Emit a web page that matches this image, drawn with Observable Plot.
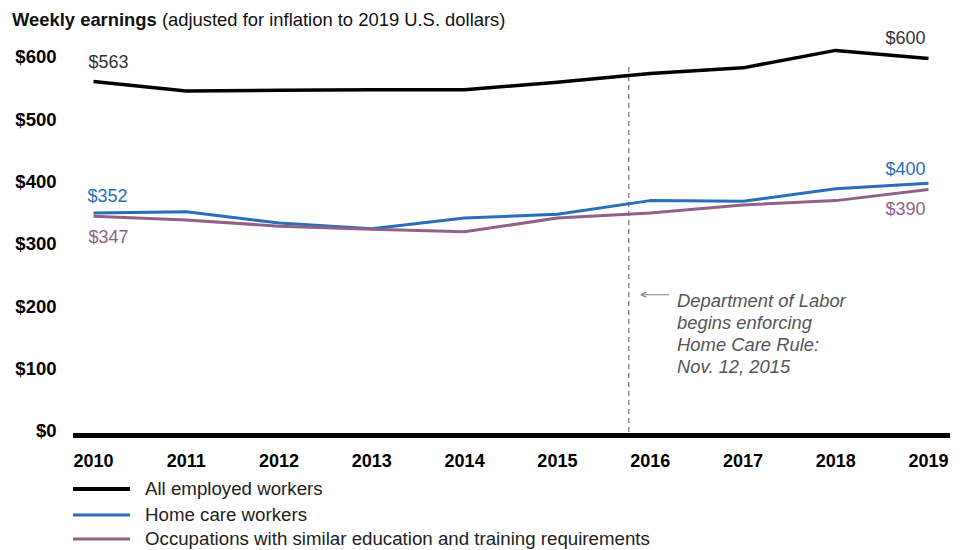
<!DOCTYPE html>
<html>
<head>
<meta charset="utf-8">
<script src="https://cdn.jsdelivr.net/npm/d3@7"></script>
<script src="https://cdn.jsdelivr.net/npm/@observablehq/plot@0.6"></script>
<style>
  html, body { margin: 0; padding: 0; background: #fff; }
  body { width: 963px; height: 550px; position: relative; overflow: hidden;
         font-family: "Liberation Sans", Arial, sans-serif; }
  #title { position: absolute; left: 12px; top: 9px; font-size: 18.4px; line-height: 22px; color: #111; white-space: nowrap; }
  #title b { font-weight: bold; }
  #chart { position: absolute; left: 0; top: 30px; }
  .leg { position: absolute; left: 73px; height: 22px; line-height: 22px; display: flex; align-items: center; font-size: 18.7px; color: #222; white-space: nowrap; }
  .leg svg { margin-right: 15px; }
</style>
</head>
<body>
<div id="title"><b>Weekly earnings</b> (adjusted for inflation to 2019 U.S. dollars)</div>
<div id="chart"></div>
<div id="legend"></div>
<script>
// ---- data ----
const years = [2010, 2011, 2012, 2013, 2014, 2015, 2016, 2017, 2018, 2019];
const allWorkers = [563, 548, 549, 550, 550, 562, 576, 585, 613, 600];
const homeCare   = [352, 354, 336, 327, 344, 350, 372, 371, 391, 400];
const similarOcc = [347, 341, 331, 326, 322, 344, 352, 365, 372, 390];
const seriesNames = ["All employed workers", "Home care workers", "Occupations with similar education and training requirements"];
const seriesColors = ["#000000", "#2a6ebb", "#916288"];
const seriesWidths = [3.5, 3, 3];
const yTicks = [0, 100, 200, 300, 400, 500, 600];
const ruleYear = 2015.77; // Nov. 12, 2015 as placed in the chart
const ruleTop = 588;
const annotationText = "Department of Labor\nbegins enforcing\nHome Care Rule:\nNov. 12, 2015";

const seriesValues = [allWorkers, homeCare, similarOcc];
const rows = seriesValues.flatMap((vals, i) => years.map((yr, j) => ({year: yr, value: vals[j], series: seriesNames[i]})));

const endLabels = [
  {year: 2010, value: allWorkers[0], text: "$563", color: "#333", anchor: "start", dx: -5, dy: -19},
  {year: 2019, value: allWorkers[9], text: "$600", color: "#333", anchor: "end", dx: -3, dy: -20},
  {year: 2010, value: homeCare[0], text: "$352", color: seriesColors[1], anchor: "start", dx: -6, dy: -17},
  {year: 2010, value: similarOcc[0], text: "$347", color: seriesColors[2], anchor: "start", dx: -5, dy: 21},
  {year: 2019, value: homeCare[9], text: "$400", color: seriesColors[1], anchor: "end", dx: -3, dy: -14},
  {year: 2019, value: similarOcc[9], text: "$390", color: seriesColors[2], anchor: "end", dx: -3, dy: 20}
];

const marks = [
  Plot.ruleX([ruleYear], {y1: 0, y2: ruleTop, stroke: "#555", strokeWidth: 1, strokeDasharray: "5,4"}),
  Plot.ruleY([0], {stroke: "#000", strokeWidth: 5, dy: 3, insetLeft: -20, insetRight: -22}),
  Plot.axisY({ticks: yTicks, tickFormat: d => "$" + d, tickSize: 0, tickPadding: 37, fontSize: 18.5, fontWeight: "bold", dy: -1, color: "#000", label: null}),
  Plot.axisX({ticks: years, tickFormat: d => String(d), tickSize: 0, tickPadding: 22, fontSize: 18, fontWeight: "bold", color: "#000", label: null}),
  ...seriesNames.map((name, i) => Plot.line(rows.filter(r => r.series === name), {
    x: "year", y: "value", stroke: seriesColors[i], strokeWidth: seriesWidths[i], strokeLinejoin: "round", strokeLinecap: "butt"
  })),
  Plot.arrow([{x1: ruleYear + 0.43, x2: ruleYear + 0.13, y: 221}], {
    x1: "x1", x2: "x2", y1: "y", y2: "y", stroke: "#888", strokeWidth: 1.2, headLength: 7, headAngle: 50
  }),
  Plot.text([annotationText], {
    x: ruleYear + 0.52, y: 227, text: d => d, textAnchor: "start", lineAnchor: "top", lineHeight: 1.2,
    fontSize: 18.4, fontStyle: "italic", fill: "#555"
  }),
  ...endLabels.map(l => Plot.text([l], {
    x: "year", y: "value", text: "text", fill: l.color, textAnchor: l.anchor, dx: l.dx, dy: l.dy, fontSize: 18
  }))
];

const chart = Plot.plot({
  width: 963,
  height: 440,
  marginTop: 28,
  marginBottom: 38,
  marginLeft: 93,
  marginRight: 35,
  style: {fontFamily: "'Liberation Sans', Arial, sans-serif", background: "#fff", overflow: "visible"},
  x: {domain: [2010, 2019], axis: null},
  y: {domain: [0, 600], axis: null},
  marks
});
document.getElementById("chart").appendChild(chart);

// legend
const legendTops = [478, 504, 528];
const legend = document.getElementById("legend");
seriesNames.forEach((name, i) => {
  const row = document.createElement("div");
  row.className = "leg";
  row.style.top = legendTops[i] + "px";
  row.innerHTML = `<svg width="57" height="6"><line x1="0" x2="57" y1="3" y2="3" stroke="${seriesColors[i]}" stroke-width="${seriesWidths[i] + (i === 0 ? 0.5 : 0)}"/></svg><span>${name}</span>`;
  legend.appendChild(row);
});
</script>
</body>
</html>
